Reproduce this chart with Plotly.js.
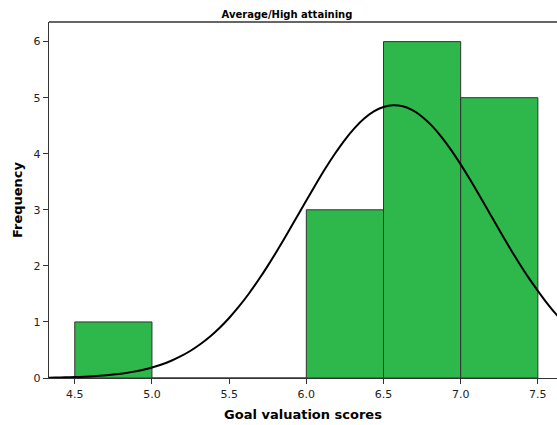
<!DOCTYPE html>
<html>
<head>
<meta charset="utf-8">
<script src="https://cdn.plot.ly/plotly-3.0.1.min.js"></script>
<style>html,body{margin:0;padding:0;background:#fff;}#chart{width:557px;height:425px;}</style>
</head>
<body>
<div id="chart"></div>
<script>
// Histogram bins (centres) and frequencies
const binCenters = [4.75, 5.25, 5.75, 6.25, 6.75, 7.25];
const frequencies = [1, 0, 0, 3, 6, 5];
const binWidth = 0.5;

// Normal curve
const curveX = [4.3125, 4.375, 4.4375, 4.5, 4.5625, 4.625, 4.6875, 4.75, 4.8125, 4.875, 4.9375, 5.0, 5.0625, 5.125, 5.1875, 5.25, 5.3125, 5.375, 5.4375, 5.5, 5.5625, 5.625, 5.6875, 5.75, 5.8125, 5.875, 5.9375, 6.0, 6.0625, 6.125, 6.1875, 6.25, 6.3125, 6.375, 6.4375, 6.5, 6.5625, 6.625, 6.6875, 6.75, 6.8125, 6.875, 6.9375, 7.0, 7.0625, 7.125, 7.1875, 7.25, 7.3125, 7.375, 7.4375, 7.5, 7.5625, 7.625, 7.6875];
const curveY = [0.005, 0.008, 0.012, 0.017, 0.024, 0.033, 0.045, 0.061, 0.082, 0.109, 0.144, 0.187, 0.241, 0.308, 0.389, 0.486, 0.602, 0.736, 0.893, 1.071, 1.272, 1.494, 1.738, 2.0, 2.279, 2.568, 2.867, 3.166, 3.461, 3.745, 4.009, 4.249, 4.457, 4.627, 4.754, 4.834, 4.865, 4.846, 4.777, 4.661, 4.501, 4.301, 4.070, 3.810, 3.531, 3.238, 2.939, 2.640, 2.347, 2.065, 1.799, 1.555, 1.323, 1.117, 0.935];

const xTicks = [4.5, 5.0, 5.5, 6.0, 6.5, 7.0, 7.5];
const xTickText = ['4.5', '5.0', '5.5', '6.0', '6.5', '7.0', '7.5'];
const yTicks = [0, 1, 2, 3, 4, 5, 6];

const font = 'DejaVu Sans, Verdana, sans-serif';

const traces = [
  {
    type: 'bar',
    x: binCenters,
    y: frequencies,
    width: binWidth,
    marker: {color: '#2eb74b', line: {color: '#333333', width: 1}},
    hoverinfo: 'x+y'
  },
  {
    type: 'scatter',
    mode: 'lines',
    x: curveX,
    y: curveY,
    line: {color: '#000000', width: 2, shape: 'spline'},
    hoverinfo: 'skip'
  }
];

const layout = {
  width: 557,
  height: 425,
  margin: {l: 49, r: 0, t: 22, b: 47},
  paper_bgcolor: '#ffffff',
  plot_bgcolor: '#ffffff',
  showlegend: false,
  bargap: 0,
  title: {
    text: '<b>Average/High attaining</b>',
    font: {family: font, size: 10, color: '#000'},
    x: 287 / 557, xref: 'container', xanchor: 'center',
    y: 1 - 14 / 425, yref: 'container', yanchor: 'middle'
  },
  xaxis: {
    range: [4.333, 7.624],
    tickvals: xTicks,
    ticktext: xTickText,
    ticks: 'outside', ticklen: 5, tickwidth: 1, tickcolor: '#333',
    showline: true, linecolor: '#333', linewidth: 1.3,
    showgrid: false, zeroline: false,
    tickfont: {family: font, size: 11, color: '#222'},
    title: {text: '<b>Goal valuation scores</b>', font: {family: font, size: 13, color: '#000'}, standoff: 10}
  },
  yaxis: {
    range: [0, 6.35],
    tickvals: yTicks,
    ticks: 'outside', ticklen: 5, tickwidth: 1, tickcolor: '#333',
    showline: true, linecolor: '#333', linewidth: 1.3,
    showgrid: false, zeroline: false,
    tickfont: {family: font, size: 11, color: '#222'},
    title: {text: '<b>Frequency</b>', font: {family: font, size: 13, color: '#000'}, standoff: 8}
  },
  shapes: [
    {type: 'line', xref: 'paper', yref: 'paper', x0: 0, x1: 1, y0: 1, y1: 1, line: {color: '#333', width: 1.3}}
  ]
};

Plotly.newPlot('chart', traces, layout, {displayModeBar: false, staticPlot: true});
</script>
</body>
</html>
